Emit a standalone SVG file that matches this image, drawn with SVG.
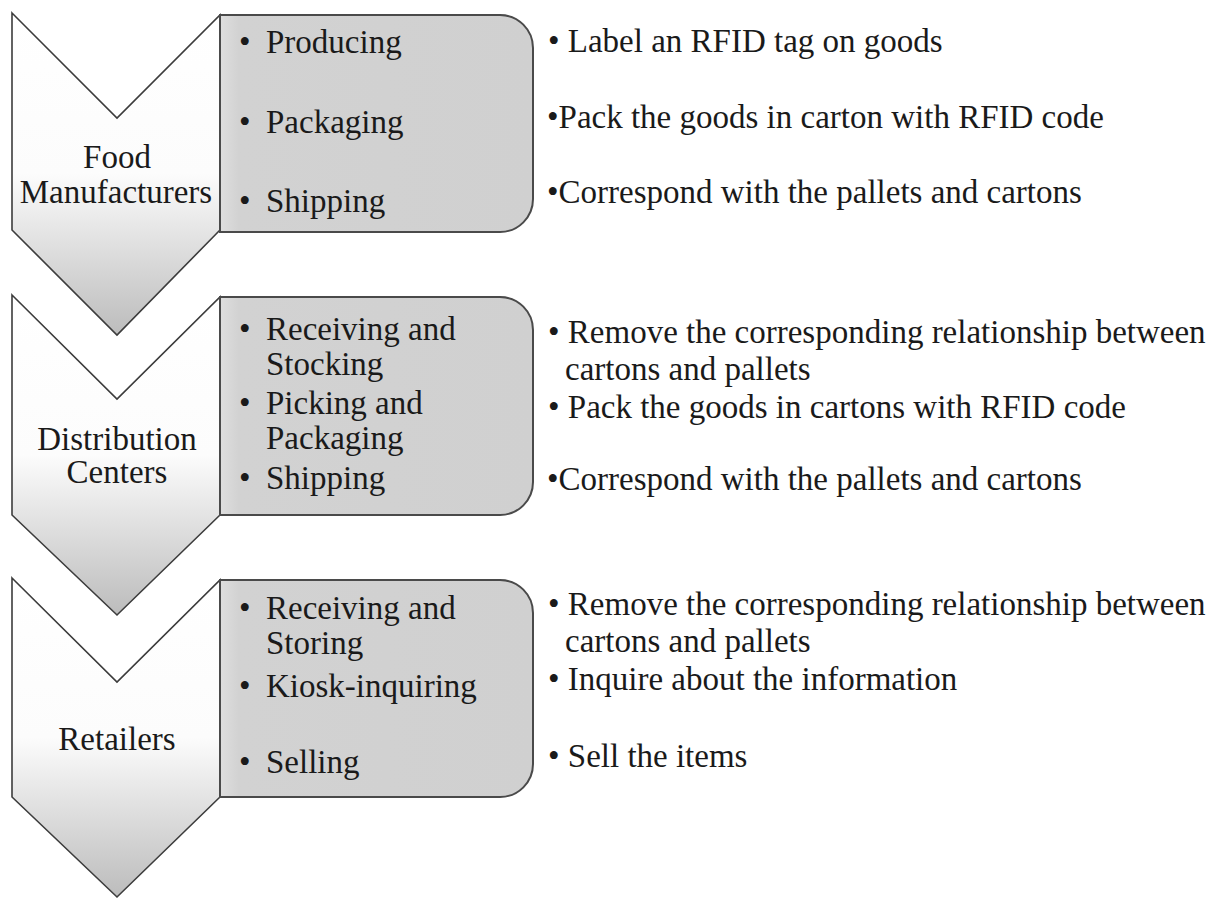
<svg xmlns="http://www.w3.org/2000/svg" width="1232" height="900" viewBox="0 0 1232 900">
<defs>
<linearGradient id="chevGrad" x1="0" y1="0" x2="0" y2="1">
<stop offset="0" stop-color="#ffffff"/>
<stop offset="0.5" stop-color="#fcfcfc"/>
<stop offset="1" stop-color="#bcbcbc"/>
</linearGradient>
<linearGradient id="boxGrad" x1="0" y1="0" x2="1" y2="0">
<stop offset="0" stop-color="#dedede"/>
<stop offset="0.06" stop-color="#d2d2d2"/>
<stop offset="1" stop-color="#d0d0d0"/>
</linearGradient>
</defs>
<style>
text{font-family:"Liberation Serif","Times New Roman",serif;font-size:33px;fill:#1a1a1a}
.chev{fill:url(#chevGrad);stroke:#3c3c3c;stroke-width:1.6;stroke-linejoin:miter}
.box{fill:url(#boxGrad);stroke:#4a4a4a;stroke-width:2}
.mid{text-anchor:middle}
</style>
<rect width="1232" height="900" fill="#ffffff"/>

<g id="stage-food-manufacturers">
<path class="chev" d="M12,13 L117,118 L220,15 L220,230 L117,335 L12,230 Z"/>
<text class="mid" x="117" y="168">Food</text>
<text class="mid" x="116" y="203">Manufacturers</text>
</g>
<g id="activities-food-manufacturers">
<path class="box" d="M220,15 L500,15 A33,33 0 0 1 533,48 L533,199 A33,33 0 0 1 500,232 L220,232 Z"/>
<text x="239" y="53">•</text><text x="266" y="53">Producing</text>
<text x="239" y="133">•</text><text x="266" y="133">Packaging</text>
<text x="239" y="212">•</text><text x="266" y="212">Shipping</text>
</g>
<g id="details-food-manufacturers">
<text x="548" y="52">• Label an RFID tag on goods</text>
<text x="547" y="128">•Pack the goods in carton with RFID code</text>
<text x="547" y="203">•Correspond with the pallets and cartons</text>
</g>

<g id="stage-distribution-centers">
<path class="chev" d="M12,295 L117,399 L220,297 L220,515 L117,615 L12,515 Z"/>
<text class="mid" x="117" y="450">Distribution</text>
<text class="mid" x="117" y="483">Centers</text>
</g>
<g id="activities-distribution-centers">
<path class="box" d="M220,297 L500,297 A33,33 0 0 1 533,330 L533,482 A33,33 0 0 1 500,515 L220,515 Z"/>
<text x="239" y="340">•</text><text x="266" y="340">Receiving and</text>
<text x="266" y="375">Stocking</text>
<text x="239" y="414">•</text><text x="266" y="414">Picking and</text>
<text x="266" y="449">Packaging</text>
<text x="239" y="489">•</text><text x="266" y="489">Shipping</text>
</g>
<g id="details-distribution-centers">
<text x="548" y="343">• Remove the corresponding relationship between</text>
<text x="565" y="380">cartons and pallets</text>
<text x="548" y="418">• Pack the goods in cartons with RFID code</text>
<text x="547" y="490">•Correspond with the pallets and cartons</text>
</g>

<g id="stage-retailers">
<path class="chev" d="M12,578 L117,682 L220,580 L220,797 L117,897 L12,797 Z"/>
<text class="mid" x="117" y="750">Retailers</text>
</g>
<g id="activities-retailers">
<path class="box" d="M220,580 L500,580 A33,33 0 0 1 533,613 L533,764 A33,33 0 0 1 500,797 L220,797 Z"/>
<text x="239" y="619">•</text><text x="266" y="619">Receiving and</text>
<text x="266" y="654">Storing</text>
<text x="239" y="697">•</text><text x="266" y="697">Kiosk-inquiring</text>
<text x="239" y="773">•</text><text x="266" y="773">Selling</text>
</g>
<g id="details-retailers">
<text x="548" y="615">• Remove the corresponding relationship between</text>
<text x="565" y="652">cartons and pallets</text>
<text x="548" y="690">• Inquire about the information</text>
<text x="548" y="767">• Sell the items</text>
</g>

<g id="connectors"></g>
</svg>
